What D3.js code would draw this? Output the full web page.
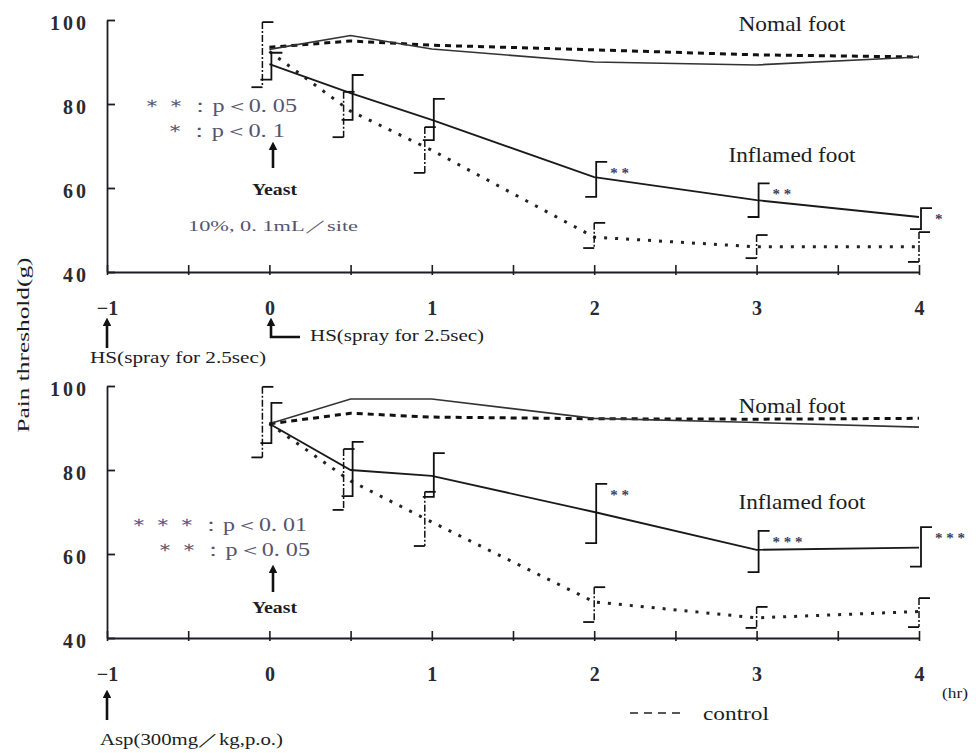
<!DOCTYPE html>
<html>
<head>
<meta charset="utf-8">
<script src="https://cdn.jsdelivr.net/npm/d3@7"></script>
<style>
  body { margin: 0; background: #fff; }
  svg text { font-family: "Liberation Serif", "DejaVu Serif", serif; }
</style>
</head>
<body>
<div id="chart"></div>
<script>
"use strict";

/* DATA */

// sampling times (hr) after yeast injection
const times = [0, 0.5, 1, 2, 3, 4];

// axis ticks
const xTickValues = [-1, -0.5, 0, 0.5, 1, 1.5, 2, 2.5, 3, 3.5, 4];
const xTickLabels = ["−1", "", "0", "", "1", "", "2", "", "3", "", "4"];
const yTickValues = [40, 60, 80, 100];

// upper panel: HS spray
const topNormal = [93, 96.3, 93.1, 90, 89.3, 91.2];
const topNormalCtrl = [93.5, 95, 94, 92.9, 91.7, 91.2];
const topInflamed = [89.5, 82.6, 76.2, 62.6, 57.1, 53.1];
const topInflamedHi = [92.2, 86.9, 81.2, 66.2, 61.1, 55.2];
const topInflamedLo = [85.8, 76.2, 71.4, 57.9, 53.1, 50.2];
const topCtrl = [92.5, 78.3, 69, 48.3, 46, 46];
const topCtrlHi = [99.5, 82.9, 74.5, 51.7, 48.8, 49.5];
const topCtrlLo = [84, 72.1, 63.6, 45.7, 43.3, 42.4];
const topStars = ["", "", "", "* *", "* *", "*"];

// lower panel: aspirin
const botNormal = [91, 96.9, 96.9, 92.3, 91.3, 90.2];
const botNormalCtrl = [91, 93.5, 92.6, 92.2, 92.1, 92.3];
const botInflamed = [91, 80, 78.6, 70, 61, 61.5];
const botInflamedHi = [96, 86.7, 84, 76.7, 65.5, 66.4];
const botInflamedLo = [86.4, 73.8, 73.6, 62.6, 55.7, 57];
const botCtrl = [91, 77.4, 67.6, 48.6, 44.8, 46.3];
const botCtrlHi = [99.8, 85, 74.8, 52.1, 47.4, 49.5];
const botCtrlLo = [83, 70.5, 61.9, 43.8, 42.4, 42.6];
const botStars = ["", "", "", "* *", "* * *", "* * *"];


/* SVG SETUP */

let svgWidth = 976;
let svgHeight = 753;

let svg = d3.select("#chart")
    .append("svg")
    .attr("width", svgWidth)
    .attr("height", svgHeight);

// arrow head for the annotation arrows
svg.append("defs").append("marker")
    .attr("id", "head")
    .attr("viewBox", "0 0 10 10")
    .attr("refX", 5)
    .attr("refY", 5)
    .attr("markerWidth", 3.4)
    .attr("markerHeight", 3.4)
    .attr("orient", "auto")
    .append("path")
    .attr("d", "M0,0 L10,5 L0,10 z")
    .attr("fill", "#111");

let xScale = d3.scaleLinear().domain([-1, 4]).range([107, 919]);
let yTop = d3.scaleLinear().domain([40, 100]).range([272, 20]);
let yBot = d3.scaleLinear().domain([40, 100]).range([638, 386]);

let ink = "#1c1c24";
let noteColor = "#56546e";


/* PANEL */

function drawPanel(yScale, p) {

    // y axis, ticks pointing inwards
    let ya = svg.append("g")
        .attr("transform", "translate(" + xScale(-1) + ",0)")
        .call(d3.axisLeft(yScale).tickValues(yTickValues).tickSize(-8).tickSizeOuter(0).tickPadding(18));
    ya.select(".domain").attr("stroke", ink).attr("stroke-width", 1.8);
    ya.selectAll(".tick line").attr("stroke", ink).attr("stroke-width", 1.8);
    ya.selectAll(".tick text")
        .attr("dy", "0.45em")
        .attr("font-family", "Liberation Serif")
        .attr("font-size", 20)
        .attr("font-weight", "bold")
        .attr("letter-spacing", 3)
        .attr("fill", "#2a2a30");

    // x axis, ticks crossing the line
    let xa = svg.append("g")
        .attr("transform", "translate(0," + yScale(40) + ")")
        .call(d3.axisBottom(xScale).tickValues(xTickValues).tickSizeOuter(0)
            .tickFormat((d, i) => xTickLabels[i]));
    xa.select(".domain").attr("stroke", ink).attr("stroke-width", 1.8);
    xa.selectAll(".tick line").attr("y1", -7).attr("y2", 3).attr("stroke", ink).attr("stroke-width", 1.6);
    xa.selectAll(".tick text")
        .attr("y", p.labelDy)
        .attr("dy", "0.35em")
        .attr("font-family", "Liberation Serif")
        .attr("font-size", 20)
        .attr("font-weight", "bold")
        .attr("fill", "#2a2a30");

    let line = vals => d3.line()
        .x((d, i) => xScale(times[i]))
        .y(d => yScale(d))(vals);

    // control lines (dashed)
    svg.append("path").attr("d", line(p.normalCtrl))
        .attr("fill", "none").attr("stroke", "#111").attr("stroke-width", 3)
        .attr("stroke-dasharray", "6,5");
    svg.append("path").attr("d", line(p.ctrl))
        .attr("fill", "none").attr("stroke", "#222").attr("stroke-width", 3)
        .attr("stroke-dasharray", "3,8");

    // treated lines (solid)
    svg.append("path").attr("d", line(p.normal))
        .attr("fill", "none").attr("stroke", "#333").attr("stroke-width", 1.6);
    svg.append("path").attr("d", line(p.inflamed))
        .attr("fill", "none").attr("stroke", "#1a1a1a").attr("stroke-width", 1.8);

    let cap = 11;

    // control error bars: dashed stem, caps right (top) and left (bottom)
    for (let i = 0; i < times.length; i++) {
        let vx = xScale(times[i]) + (times[i] <= 1 ? -7 : 0);
        svg.append("line")
            .attr("x1", vx).attr("x2", vx)
            .attr("y1", yScale(p.ctrlHi[i])).attr("y2", yScale(p.ctrlLo[i]))
            .attr("stroke", "#111").attr("stroke-width", 1.5)
            .attr("stroke-dasharray", "7,2,2,2");
        svg.append("path")
            .attr("d", "M" + (vx + cap) + "," + yScale(p.ctrlHi[i]) + "H" + vx)
            .attr("stroke", "#111").attr("stroke-width", 1.8);
        svg.append("path")
            .attr("d", "M" + vx + "," + yScale(p.ctrlLo[i]) + "H" + (vx - cap))
            .attr("stroke", "#111").attr("stroke-width", 1.8);
    }

    // inflamed foot error bars with significance marks
    for (let i = 0; i < times.length; i++) {
        let vx = xScale(times[i]) + 2;
        svg.append("path")
            .attr("d", "M" + (vx + cap) + "," + yScale(p.inflamedHi[i]) +
                "H" + vx + "V" + yScale(p.inflamedLo[i]) + "H" + (vx - cap))
            .attr("fill", "none")
            .attr("stroke", "#111").attr("stroke-width", 1.8);

        if (p.stars[i]) {
            svg.append("text")
                .attr("x", vx + 14)
                .attr("y", yScale(p.inflamedHi[i]) + 16)
                .attr("font-size", 15)
                .attr("font-weight", "bold")
                .attr("fill", "#3b3f66")
                .text(p.stars[i]);
        }
    }

    // series labels
    svg.append("text")
        .attr("x", p.normalLabel[0]).attr("y", p.normalLabel[1])
        .attr("text-anchor", "middle")
        .attr("font-size", 21).attr("fill", ink)
        .attr("textLength", 107).attr("lengthAdjust", "spacingAndGlyphs")
        .text("Nomal foot");
    svg.append("text")
        .attr("x", p.inflamedLabel[0]).attr("y", p.inflamedLabel[1])
        .attr("text-anchor", "middle")
        .attr("font-size", 21).attr("fill", ink)
        .attr("textLength", 127).attr("lengthAdjust", "spacingAndGlyphs")
        .text("Inflamed foot");
}

drawPanel(yTop, {
    normal: topNormal, normalCtrl: topNormalCtrl,
    inflamed: topInflamed, inflamedHi: topInflamedHi, inflamedLo: topInflamedLo,
    ctrl: topCtrl, ctrlHi: topCtrlHi, ctrlLo: topCtrlLo,
    stars: topStars,
    labelDy: 36,
    normalLabel: [792, 31],
    inflamedLabel: [792, 162]
});

drawPanel(yBot, {
    normal: botNormal, normalCtrl: botNormalCtrl,
    inflamed: botInflamed, inflamedHi: botInflamedHi, inflamedLo: botInflamedLo,
    ctrl: botCtrl, ctrlHi: botCtrlHi, ctrlLo: botCtrlLo,
    stars: botStars,
    labelDy: 36,
    normalLabel: [792, 413],
    inflamedLabel: [802, 509]
});


/* ANNOTATIONS */

function note(x, y, str, len, size, color, weight) {
    svg.append("text")
        .attr("x", x).attr("y", y)
        .attr("font-size", size)
        .attr("font-weight", weight || "normal")
        .attr("fill", color)
        .attr("textLength", len).attr("lengthAdjust", "spacingAndGlyphs")
        .text(str);
}

function arrow(points) {
    svg.append("path")
        .attr("d", d3.line()(points))
        .attr("fill", "none")
        .attr("stroke", "#111")
        .attr("stroke-width", 2.6)
        .attr("marker-end", "url(#head)");
}

// upper panel notes
note(140, 112, "＊＊：p＜0. 05", 157, 18, noteColor);
note(163, 137, "＊：p＜0. 1", 122, 18, noteColor);
arrow([[273, 168], [273, 146]]);
note(252, 195, "Yeast", 45, 16, ink, "bold");
note(188, 231, "10%, 0. 1mL／site", 170, 15, noteColor);

// HS markers below the upper axis
arrow([[107, 348], [107, 322]]);
note(90, 363, "HS(spray for 2.5sec)", 176, 16, ink);
arrow([[300, 337], [271, 337], [271, 322]]);
note(310, 341, "HS(spray for 2.5sec)", 174, 16, ink);

// lower panel notes
note(127, 531, "＊＊＊：p＜0. 01", 180, 18, noteColor);
note(153, 556, "＊＊：p＜0. 05", 157, 18, noteColor);
arrow([[273, 592], [273, 569]]);
note(252, 613, "Yeast", 45, 16, ink, "bold");

arrow([[107, 720], [107, 694]]);
note(100, 745, "Asp(300mg／kg,p.o.)", 183, 16, ink);

// unit and legend
note(942, 698, "(hr)", 26, 15, ink);
svg.append("line")
    .attr("x1", 630).attr("x2", 686)
    .attr("y1", 713).attr("y2", 713)
    .attr("stroke", "#222").attr("stroke-width", 1.6)
    .attr("stroke-dasharray", "8,6");
note(703, 720, "control", 66, 19, ink);

// y axis title
svg.append("text")
    .attr("transform", "translate(29,345) rotate(-90)")
    .attr("text-anchor", "middle")
    .attr("font-size", 16)
    .attr("fill", ink)
    .attr("textLength", 175).attr("lengthAdjust", "spacingAndGlyphs")
    .text("Pain threshold(g)");
</script>
</body>
</html>
